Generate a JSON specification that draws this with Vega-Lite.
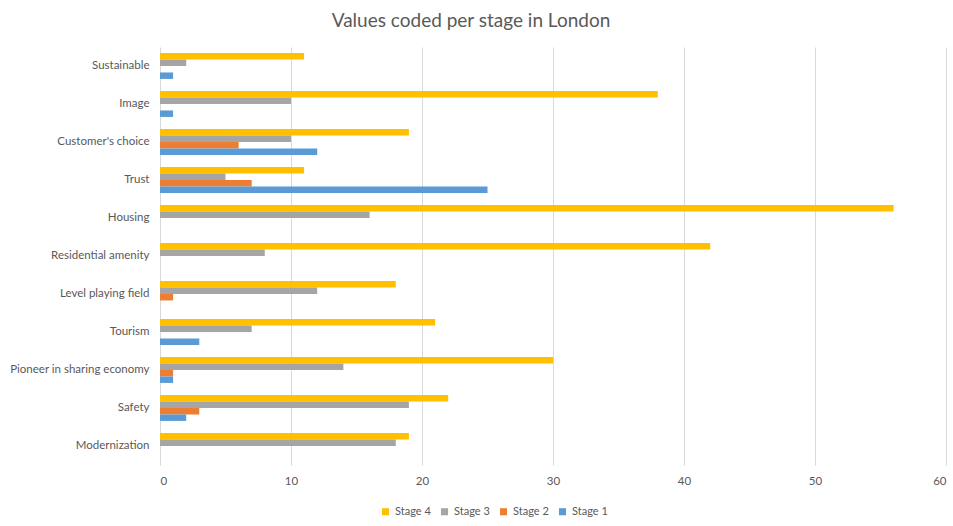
{
  "$schema": "https://vega.github.io/schema/vega-lite/v6.json",
  "width": 786,
  "height": 418,
  "autosize": {"type": "none"},
  "padding": {"left": 160, "top": 47, "right": 7, "bottom": 61},
  "background": "white",
  "title": {
    "text": "Values coded per stage in London",
    "fontSize": 19,
    "font": "Lato",
    "fontWeight": "normal",
    "color": "#595959",
    "offset": 16,
    "anchor": "middle",
    "dx": -82
  },
  "data": {
    "values": [
      {"category": "Sustainable", "stage": "Stage 4", "value": 11},
      {"category": "Sustainable", "stage": "Stage 3", "value": 2},
      {"category": "Sustainable", "stage": "Stage 2", "value": 0},
      {"category": "Sustainable", "stage": "Stage 1", "value": 1},
      {"category": "Image", "stage": "Stage 4", "value": 38},
      {"category": "Image", "stage": "Stage 3", "value": 10},
      {"category": "Image", "stage": "Stage 2", "value": 0},
      {"category": "Image", "stage": "Stage 1", "value": 1},
      {"category": "Customer's choice", "stage": "Stage 4", "value": 19},
      {"category": "Customer's choice", "stage": "Stage 3", "value": 10},
      {"category": "Customer's choice", "stage": "Stage 2", "value": 6},
      {"category": "Customer's choice", "stage": "Stage 1", "value": 12},
      {"category": "Trust", "stage": "Stage 4", "value": 11},
      {"category": "Trust", "stage": "Stage 3", "value": 5},
      {"category": "Trust", "stage": "Stage 2", "value": 7},
      {"category": "Trust", "stage": "Stage 1", "value": 25},
      {"category": "Housing", "stage": "Stage 4", "value": 56},
      {"category": "Housing", "stage": "Stage 3", "value": 16},
      {"category": "Housing", "stage": "Stage 2", "value": 0},
      {"category": "Housing", "stage": "Stage 1", "value": 0},
      {"category": "Residential amenity", "stage": "Stage 4", "value": 42},
      {"category": "Residential amenity", "stage": "Stage 3", "value": 8},
      {"category": "Residential amenity", "stage": "Stage 2", "value": 0},
      {"category": "Residential amenity", "stage": "Stage 1", "value": 0},
      {"category": "Level playing field", "stage": "Stage 4", "value": 18},
      {"category": "Level playing field", "stage": "Stage 3", "value": 12},
      {"category": "Level playing field", "stage": "Stage 2", "value": 1},
      {"category": "Level playing field", "stage": "Stage 1", "value": 0},
      {"category": "Tourism", "stage": "Stage 4", "value": 21},
      {"category": "Tourism", "stage": "Stage 3", "value": 7},
      {"category": "Tourism", "stage": "Stage 2", "value": 0},
      {"category": "Tourism", "stage": "Stage 1", "value": 3},
      {"category": "Pioneer in sharing economy", "stage": "Stage 4", "value": 30},
      {"category": "Pioneer in sharing economy", "stage": "Stage 3", "value": 14},
      {"category": "Pioneer in sharing economy", "stage": "Stage 2", "value": 1},
      {"category": "Pioneer in sharing economy", "stage": "Stage 1", "value": 1},
      {"category": "Safety", "stage": "Stage 4", "value": 22},
      {"category": "Safety", "stage": "Stage 3", "value": 19},
      {"category": "Safety", "stage": "Stage 2", "value": 3},
      {"category": "Safety", "stage": "Stage 1", "value": 2},
      {"category": "Modernization", "stage": "Stage 4", "value": 19},
      {"category": "Modernization", "stage": "Stage 3", "value": 18},
      {"category": "Modernization", "stage": "Stage 2", "value": 0},
      {"category": "Modernization", "stage": "Stage 1", "value": 0}
    ]
  },
  "mark": {"type": "bar"},
  "encoding": {
    "y": {
      "field": "category",
      "type": "nominal",
      "sort": null,
      "title": null,
      "scale": {"paddingInner": 0.32, "paddingOuter": 0.16},
      "axis": {
        "domain": false,
        "ticks": false,
        "labelPadding": 11,
        "labelFontSize": 11.5,
        "labelFont": "Lato",
        "labelColor": "#595959",
        "grid": false
      }
    },
    "yOffset": {
      "field": "stage",
      "type": "nominal",
      "sort": ["Stage 4", "Stage 3", "Stage 2", "Stage 1"]
    },
    "x": {
      "field": "value",
      "type": "quantitative",
      "title": null,
      "scale": {"domain": [0, 60], "nice": false},
      "axis": {
        "values": [0, 10, 20, 30, 40, 50, 60],
        "domain": false,
        "ticks": false,
        "grid": true,
        "gridColor": "#d9d9d9",
        "gridWidth": 1,
        "labelPadding": 10,
        "labelFontSize": 11.5,
        "labelFont": "Lato",
        "labelColor": "#595959"
      }
    },
    "color": {
      "field": "stage",
      "type": "nominal",
      "scale": {
        "domain": ["Stage 4", "Stage 3", "Stage 2", "Stage 1"],
        "range": ["#FFC000", "#A5A5A5", "#ED7D31", "#5B9BD5"]
      },
      "legend": {
        "title": null,
        "orient": "none",
        "legendX": 220,
        "legendY": 459,
        "direction": "horizontal",
        "symbolType": "square",
        "symbolSize": 50,
        "symbolStrokeWidth": 0,
        "labelFontSize": 11,
        "labelFont": "Lato",
        "labelColor": "#595959",
        "columnPadding": 8
      }
    }
  },
  "config": {
    "view": {"stroke": null}
  }
}
